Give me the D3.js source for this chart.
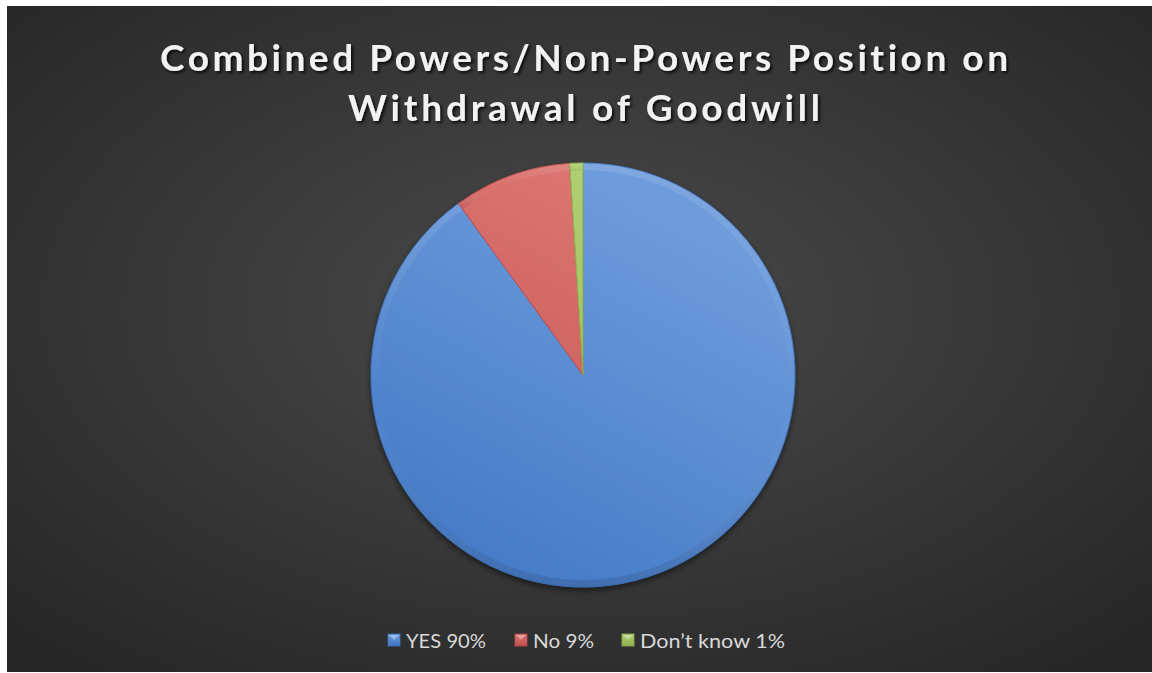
<!DOCTYPE html>
<html><head><meta charset="utf-8">
<script src="https://cdn.jsdelivr.net/npm/d3@7"></script>
<style>html,body{margin:0;padding:0;background:#fff;overflow:hidden}</style>
</head><body>
<script>
const categories = ["YES", "No", "Don\u2019t know"];
const values = [90, 9, 1];
const legendLabels = ["YES 90%", "No 9%", "Don\u2019t know 1%"];
const titleLines = ["Combined Powers/Non-Powers Position on", "Withdrawal of Goodwill"];

const W = 1152, H = 673;
const svg = d3.select("body").append("svg").attr("width", W).attr("height", H);
const defs = svg.append("defs");

const bg = defs.append("radialGradient").attr("id","bg").attr("cx","50%").attr("cy","45%").attr("r","70%");
bg.append("stop").attr("offset","0%").attr("stop-color","#4b4b4b");
bg.append("stop").attr("offset","100%").attr("stop-color","#262626");
svg.append("rect").attr("x",7).attr("y",6).attr("width",W-7).attr("height",H-7).attr("fill","url(#bg)");

const sh = defs.append("filter").attr("id","tshadow").attr("x","-10%").attr("y","-30%").attr("width","120%").attr("height","160%");
sh.append("feDropShadow").attr("dx",2).attr("dy",2).attr("stdDeviation",1.5).attr("flood-color","#000").attr("flood-opacity",0.8);

const psh = defs.append("filter").attr("id","pshadow").attr("x","-20%").attr("y","-20%").attr("width","140%").attr("height","140%");
psh.append("feDropShadow").attr("dx",0).attr("dy",3).attr("stdDeviation",3).attr("flood-color","#000").attr("flood-opacity",0.5);

const colors = d3.scaleOrdinal().domain(categories).range([
  ["#6d9bdb","#3f76c4"],
  ["#dc7571","#bf4f4c"],
  ["#afcf72","#8fb04d"]
]);
categories.forEach((c,i)=>{
  const g = defs.append("linearGradient").attr("id","g"+i).attr("gradientUnits","userSpaceOnUse")
    .attr("x1",700).attr("y1",170).attr("x2",480).attr("y2",580);
  g.append("stop").attr("offset","0%").attr("stop-color",colors(c)[0]);
  g.append("stop").attr("offset","100%").attr("stop-color",colors(c)[1]);
  const lg = defs.append("linearGradient").attr("id","lg"+i).attr("x1","0").attr("y1","0").attr("x2","0").attr("y2","1");
  lg.append("stop").attr("offset","0%").attr("stop-color",colors(c)[0]);
  lg.append("stop").attr("offset","100%").attr("stop-color",colors(c)[1]);
});
// rim shading: lighter at top, darker at bottom
const rimG = defs.append("linearGradient").attr("id","rimG").attr("x1","0").attr("y1","0").attr("x2","0").attr("y2","1");
rimG.append("stop").attr("offset","0%").attr("stop-color","#fff").attr("stop-opacity",0.12);
rimG.append("stop").attr("offset","55%").attr("stop-color","#fff").attr("stop-opacity",0.0);
rimG.append("stop").attr("offset","100%").attr("stop-color","#000").attr("stop-opacity",0.12);

const title = svg.append("g").attr("filter","url(#tshadow)");
const titleW = [848, 472];
titleLines.forEach((t,i)=>{
  title.append("text").attr("x",584).attr("y",71+i*50)
    .attr("text-anchor","middle")
    .attr("textLength",titleW[i]).attr("lengthAdjust","spacing")
    .style("font-family","Lato, 'Open Sans', sans-serif").style("font-weight","bold")
    .style("font-variant-ligatures","none")
    .style("font-size","37px").attr("fill","#f2f2f2").text(t);
});

const cx = 583, cy = 375, R = 212;
const pie = d3.pie().sort(null).value(d=>d)(values);
const arc = d3.arc().innerRadius(0).outerRadius(R);
const pg = svg.append("g").attr("transform",`translate(${cx},${cy})`).attr("filter","url(#pshadow)");
pg.selectAll("path.slice").data(pie).join("path").attr("class","slice")
  .attr("d",arc).attr("fill",(d,i)=>`url(#g${i})`)
  .attr("stroke",(d,i)=>colors(categories[i])[1]).attr("stroke-width",1);
const rim = d3.arc().innerRadius(R-7).outerRadius(R);
svg.append("g").attr("transform",`translate(${cx},${cy})`)
  .selectAll("path").data(pie).join("path")
  .attr("d",rim).attr("fill","url(#rimG)");

const lx = [388, 515, 622];
const lw = [80, 61, 145];
const lgG = svg.append("g");
categories.forEach((c,i)=>{
  lgG.append("rect").attr("x",lx[i]).attr("y",634).attr("width",12).attr("height",12)
    .attr("fill",`url(#lg${i})`).attr("stroke",colors(c)[1]).attr("stroke-width",0.8);
  lgG.append("path").attr("d",`M${lx[i]+1},${635} L${lx[i]+11},${635} L${lx[i]+6},${640} Z`)
    .attr("fill","#fff").attr("opacity",0.35);
  lgG.append("text").attr("x",lx[i]+18).attr("y",648)
    .attr("textLength",lw[i]).attr("lengthAdjust","spacingAndGlyphs")
    .style("font-family","Lato, 'Open Sans', sans-serif").style("font-size","19.5px")
    .attr("fill","#d9d9d9").text(legendLabels[i]);
});
</script>
</body></html>
